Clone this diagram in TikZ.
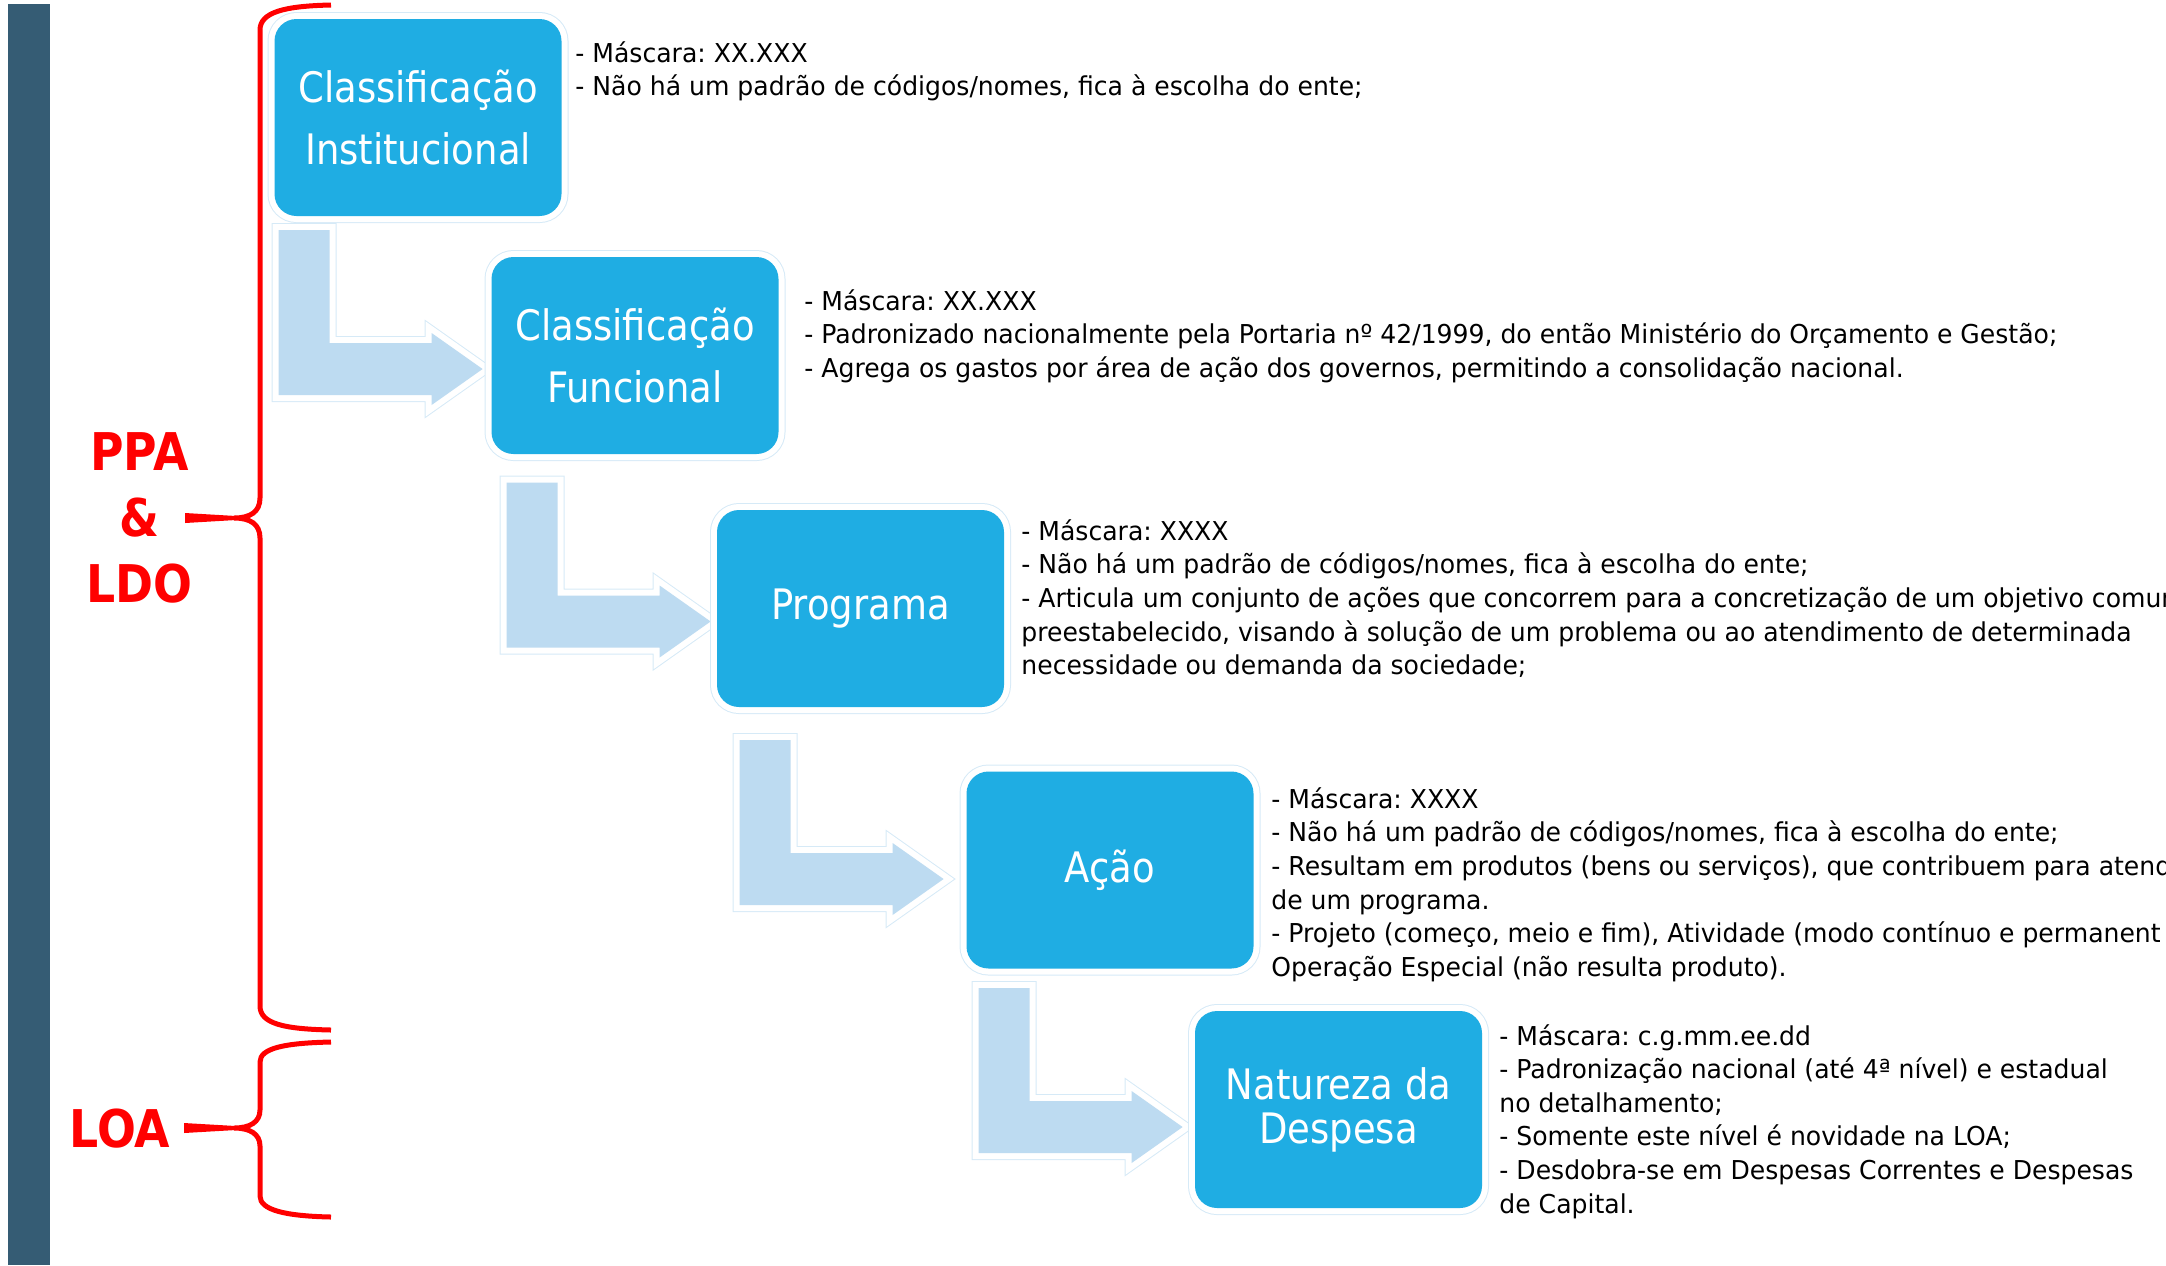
\documentclass[tikz,border=0pt]{standalone}
\usepackage{fontspec}
\setmainfont{DejaVu Sans}[FakeStretch=0.88]
\newfontfamily\bodyfont{DejaVu Sans}[FakeStretch=0.965]
\usetikzlibrary{calc}
\frenchspacing

\definecolor{sidebar}{RGB}{53,92,116}
\definecolor{stageblue}{RGB}{31,173,227}
\definecolor{flowblue}{RGB}{189,219,241}
\definecolor{glowblue}{RGB}{214,234,247}

\pgfdeclarelayer{background}
\pgfsetlayers{background,main}

\tikzset{
  stage/.style={fill=stageblue,rounded corners=11pt,minimum width=143.5pt,minimum height=98.5pt,
    inner sep=0pt,text=white,align=center,font=\fontsize{21}{31}\selectfont,
    preaction={draw=glowblue,line width=7pt},preaction={draw=white,line width=6pt}},
  flow/.style={fill=flowblue,preaction={draw=glowblue,line width=7pt},preaction={draw=white,line width=6pt}},
  desc/.style={anchor=base west,inner sep=0pt,font=\bodyfont\fontsize{13}{16}\selectfont},
  brace/.style={draw=red,line width=2.5pt},
  side/.style={text=red,align=center,font=\bfseries\fontsize{26}{33}\selectfont}
}

\begin{document}
\begin{tikzpicture}[x=0.5pt,y=-0.5pt]

\useasboundingbox (0,0) rectangle (2166,1265);

%%%% side bar
\fill[sidebar] (8,4) rectangle (50,1265);

%%%% stages
\node[stage] (inst) at (418,117.5) {Classificação\\Institucional};
\node[stage] (func) at (635,355.5) {Classificação\\Funcional};
\node[stage] (prog) at (860.5,608.5) {Programa};
\node[stage] (acao) at (1110,870) {Ação};
\node[stage,font=\fontsize{21}{22}\selectfont] (nat) at (1338.5,1109.5) {Natureza da\\Despesa};

%%%% bent arrows
\begin{pgfonlayer}{background}
\foreach \b/\dx/\dy in {func/-8.5/13.5,prog/-6/13,acao/-22.5/9,nat/-12/17.5}{
  \coordinate (tip-\b) at ($(\b.west)+(\dx,\dy)$);
  \fill[flow,shift={(tip-\b)}] (-204,-139) -- (-153,-139) -- (-153,-26) -- (-51,-26) -- (-51,-36)
       -- (0,0) -- (-51,36) -- (-51,26) -- (-204,26) -- cycle;
}
\end{pgfonlayer}

%%%% descriptions
\foreach \t [count=\i] in {{- Máscara: XX.XXX},
    {- Não há um padrão de códigos/nomes, fica à escolha do ente;}}
  \node[desc] (inst-d\i) at (575,{62+33.7*(\i-1)}) {\t};

\foreach \t [count=\i] in {{- Máscara: XX.XXX},
    {- Padronizado nacionalmente pela Portaria nº 42/1999, do então Ministério do Orçamento e Gestão;},
    {- Agrega os gastos por área de ação dos governos, permitindo a consolidação nacional.}}
  \node[desc] (func-d\i) at (804,{310+33.7*(\i-1)}) {\t};

\foreach \t [count=\i] in {{- Máscara: XXXX},
    {- Não há um padrão de códigos/nomes, fica à escolha do ente;},
    {- Articula um conjunto de ações que concorrem para a concretização de um objetivo comum},
    {preestabelecido, visando à solução de um problema ou ao atendimento de determinada},
    {necessidade ou demanda da sociedade;}}
  \node[desc] (prog-d\i) at (1021,{540+33.7*(\i-1)}) {\t};

\foreach \t [count=\i] in {{- Máscara: XXXX},
    {- Não há um padrão de códigos/nomes, fica à escolha do ente;},
    {- Resultam em produtos (bens ou serviços), que contribuem para atend},
    {de um programa.},
    {- Projeto (começo, meio e fim), Atividade (modo contínuo e permanent},
    {Operação Especial (não resulta produto).}}
  \node[desc] (acao-d\i) at (1271,{808+33.7*(\i-1)}) {\t};

\foreach \t [count=\i] in {{- Máscara: c.g.mm.ee.dd},
    {- Padronização nacional (até 4ª nível) e estadual},
    {no detalhamento;},
    {- Somente este nível é novidade na LOA;},
    {- Desdobra-se em Despesas Correntes e Despesas},
    {de Capital.}}
  \node[desc] (nat-d\i) at (1499,{1045+33.6*(\i-1)}) {\t};

%%%% braces
\draw[brace] (331,5) .. controls (285,6) and (260,12) .. (260,30) -- (260,498)
  .. controls (260,512) and (250,518) .. (234,518) .. controls (250,518) and (260,524) .. (260,538)
  -- (260,1006) .. controls (260,1024) and (285,1029) .. (331,1030);
\fill[red] (185,513) -- (236,516) -- (236,520) -- (185,523) -- cycle;
\node[side] (ppa) at (139.5,518) {PPA\\\&\\LDO};

\draw[brace] (331,1042) .. controls (285,1043) and (260,1048) .. (260,1062) -- (260,1110)
  .. controls (260,1122) and (250,1128) .. (234,1128) .. controls (250,1128) and (260,1134) .. (260,1146)
  -- (260,1196) .. controls (260,1210) and (285,1216) .. (331,1217);
\fill[red] (184,1123) -- (236,1126) -- (236,1130) -- (184,1133) -- cycle;
\node[side] (loa) at (120,1129) {LOA};

\end{tikzpicture}
\end{document}
